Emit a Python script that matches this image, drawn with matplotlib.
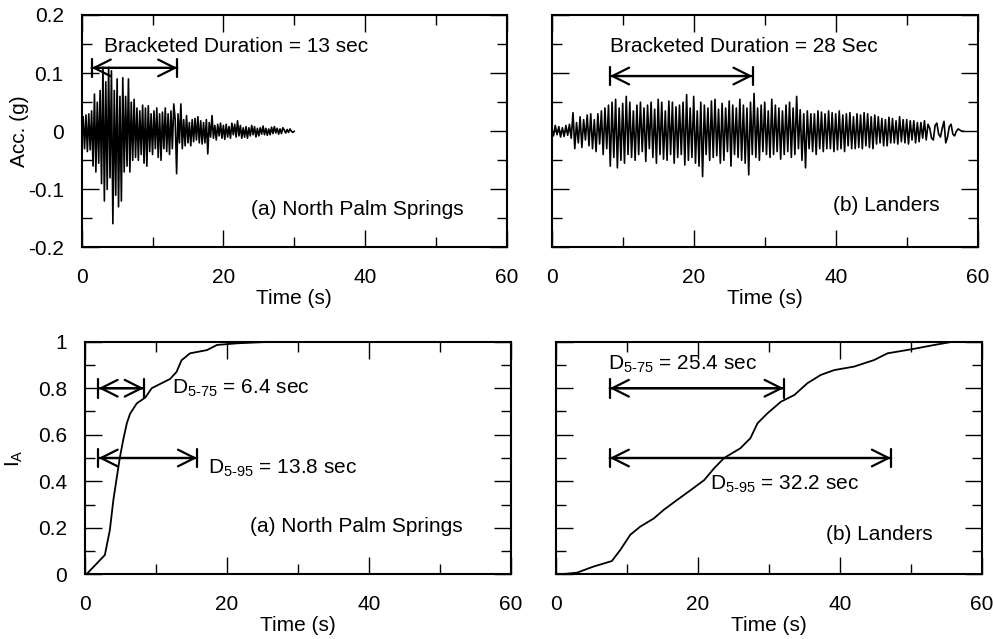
import matplotlib
matplotlib.use('Agg')
import matplotlib.pyplot as plt
import numpy as np
from matplotlib.ticker import MultipleLocator

plt.rcParams['font.family'] = ['Liberation Sans', 'DejaVu Sans']
plt.rcParams['font.size'] = 15
plt.rcParams['mathtext.fontset'] = 'custom'
plt.rcParams['mathtext.rm'] = 'Liberation Sans'
plt.rcParams['mathtext.it'] = 'Liberation Sans:italic'

# --- acceleration records (g) ---
nps_dt = 0.2
nps_acc = [
    0.0, 0.025, -0.03, 0.028, -0.035,
    0.03, -0.032, 0.035, -0.06, 0.064,
    -0.07, 0.05, -0.055, 0.07, -0.09,
    0.11, -0.12, 0.085, -0.1, 0.11,
    -0.08, 0.104, -0.159, 0.07, -0.11,
    0.09, -0.13, 0.06, -0.12, 0.092,
    -0.07, 0.06, -0.06, 0.09, -0.07,
    0.05, -0.05, 0.055, -0.045, 0.04,
    -0.05, 0.035, -0.04, 0.045, -0.055,
    0.04, -0.06, 0.044, -0.035, 0.03,
    -0.04, 0.035, -0.03, 0.04, -0.045,
    0.03, -0.05, 0.033, -0.03, 0.04,
    -0.035, 0.03, -0.04, 0.035, -0.03,
    0.047, 0.02, -0.073, 0.03, -0.02,
    0.047, -0.03, 0.02, -0.025, 0.027,
    -0.02, 0.015, -0.025, 0.02, -0.018,
    0.022, -0.015, 0.025, -0.02, 0.018,
    -0.022, 0.015, -0.02, 0.02, -0.039,
    0.015, -0.01, 0.027, -0.012, 0.01,
    -0.015, 0.012, -0.008, 0.014, -0.012,
    0.01, -0.014, 0.012, -0.01, 0.008,
    -0.012, 0.014, -0.006, 0.012, -0.01,
    0.018, -0.008, 0.01, -0.012, 0.006,
    -0.01, 0.008, -0.012, 0.006, -0.008,
    0.01, -0.006, 0.008, -0.01, 0.005,
    -0.008, 0.006, -0.005, 0.009, -0.006,
    0.005, -0.007, 0.004, -0.006, 0.007,
    -0.004, 0.008, -0.003, 0.005, -0.005,
    0.004, -0.004, 0.006, 0.002, -0.003,
    0.003, -0.002, 0.004, 0.0, -0.002,
    0.0,
]

landers_dt = 0.25
landers_acc = [
    0.004, -0.008, 0.01, -0.006,
    0.008, -0.01, 0.006, -0.009,
    0.01, -0.007, 0.012, -0.012,
    0.032, -0.03, 0.015, -0.02,
    0.025, -0.028, 0.02, -0.015,
    0.028, -0.025, 0.03, -0.03,
    0.02, -0.035, 0.03, -0.022,
    0.035, -0.04, 0.04, -0.03,
    0.045, -0.06, 0.05, -0.045,
    0.055, -0.063, 0.04, -0.05,
    0.048, -0.055, 0.06, -0.04,
    0.05, -0.045, 0.035, -0.05,
    0.045, -0.04, 0.05, -0.035,
    0.04, -0.052, 0.045, -0.03,
    0.05, -0.045, 0.038, -0.055,
    0.055, -0.04, 0.05, -0.048,
    0.035, -0.05, 0.052, -0.04,
    0.05, -0.055, 0.042, -0.045,
    0.045, -0.04, 0.05, -0.058,
    0.063, -0.05, 0.04, -0.045,
    0.06, -0.055, 0.035, -0.06,
    0.05, -0.078, 0.045, -0.04,
    0.04, -0.05, 0.052, -0.045,
    0.055, -0.042, 0.038, -0.055,
    0.048, -0.05, 0.04, -0.035,
    0.052, -0.06, 0.045, -0.04,
    0.04, -0.045, 0.055, -0.05,
    0.045, -0.055, 0.04, -0.075,
    0.05, -0.04, 0.065, -0.045,
    0.04, -0.05, 0.045, -0.035,
    0.05, -0.04, 0.035, -0.045,
    0.055, -0.04, 0.045, -0.035,
    0.04, -0.048, 0.035, -0.04,
    0.045, -0.035, 0.05, -0.045,
    0.04, -0.04, 0.06, -0.03,
    0.037, -0.05, 0.03, -0.063,
    0.035, -0.03, 0.03, -0.035,
    0.03, -0.04, 0.035, -0.03,
    0.033, -0.035, 0.03, -0.03,
    0.035, -0.03, 0.032, -0.035,
    0.03, -0.032, 0.035, -0.03,
    0.028, -0.035, 0.03, -0.025,
    0.032, -0.03, 0.025, -0.03,
    0.03, -0.028, 0.028, -0.03,
    0.032, -0.025, 0.03, -0.028,
    0.025, -0.03, 0.028, -0.022,
    0.025, -0.02, 0.022, -0.025,
    0.02, -0.025, 0.024, -0.02,
    0.022, -0.02, 0.018, -0.022,
    0.025, -0.018, 0.02, -0.02,
    0.02, -0.022, 0.018, -0.015,
    0.018, -0.02, 0.015, -0.018,
    0.015, -0.012, 0.018, -0.015,
    0.012, 0.005, -0.012, -0.015,
    0.01, 0.014, -0.005, -0.01,
    0.005, 0.017, -0.02, -0.01,
    0.008, 0.012, -0.005, -0.008,
    0.0, 0.004, 0.002, 0.0,
    0.0,
]

# --- normalised Arias intensity ---
nps_ia_t = [0.2, 2.8, 3.5, 4.0, 4.5, 4.9, 5.4, 5.9, 6.35, 7.3, 8.5, 9.4, 12.0,
            12.9, 13.6, 14.8, 17.2, 18.6, 21.4, 25.0, 29.0]
nps_ia = [0.0, 0.083, 0.19, 0.32, 0.42, 0.5, 0.58, 0.65, 0.69, 0.735, 0.76,
          0.8, 0.84, 0.87, 0.92, 0.95, 0.964, 0.986, 0.993, 0.998, 1.0]

landers_ia_t = [0.6, 3.0, 5.3, 7.9, 9.1, 10.5, 11.9, 13.8, 15.2, 17.1, 19.0,
                20.9, 22.3, 23.7, 26.0, 27.4, 28.4, 29.8, 31.7, 33.6, 35.4,
                37.3, 39.2, 42.0, 44.8, 46.7, 50.0, 53.3, 55.9]
landers_ia = [0.0, 0.007, 0.033, 0.057, 0.105, 0.17, 0.205, 0.24, 0.277, 0.32,
              0.362, 0.405, 0.456, 0.5, 0.542, 0.585, 0.649, 0.692, 0.742,
              0.771, 0.821, 0.857, 0.878, 0.893, 0.921, 0.95, 0.967, 0.986, 1.0]

# durations marked on the plots (start, end) in s
nps_bracket = (1.4, 13.5)
landers_bracket = (8.2, 28.3)
nps_d575 = (1.9, 8.3)
nps_d595 = (1.9, 15.8)
landers_d575 = (7.6, 32.1)
landers_d595 = (7.6, 47.2)

W, H = 993, 639


def dim_arrow(ax, x1, x2, y):
    ax.annotate('', xy=(x1, y), xytext=(x2, y),
                arrowprops=dict(arrowstyle='<->,head_length=0.8,head_width=0.4',
                                lw=1.6, color='black', shrinkA=0, shrinkB=0))
    ax.annotate('', xy=(x1, y), xytext=(x2, y),
                arrowprops=dict(arrowstyle='|-|,widthA=0.45,widthB=0.45',
                                lw=1.6, color='black', shrinkA=0, shrinkB=0))


def style(ax, ymin, ymax, ymaj, ymin_step, show_y):
    ax.set_xlim(0, 60)
    ax.set_ylim(ymin, ymax)
    ax.xaxis.set_major_locator(MultipleLocator(20))
    ax.xaxis.set_minor_locator(MultipleLocator(10))
    ax.yaxis.set_major_locator(MultipleLocator(ymaj))
    ax.yaxis.set_minor_locator(MultipleLocator(ymin_step))
    ax.tick_params(which='both', direction='in', top=True, right=True, width=1.0)
    ax.tick_params(which='major', length=12, pad=13)
    ax.tick_params(which='minor', length=7)
    ax.tick_params(axis='x', which='major', pad=15)
    for s in ax.spines.values():
        s.set_linewidth(1.5)
    if not show_y:
        ax.tick_params(axis='y', labelleft=False)
    ax.set_xlabel('Time (s)', labelpad=1)


fig = plt.figure(figsize=(W / 100, H / 100), dpi=100)
ax1 = fig.add_axes([81.7 / W, 1 - 247.5 / H, 425 / W, 232.5 / H])
ax2 = fig.add_axes([551.7 / W, 1 - 247.5 / H, 426 / W, 232.5 / H])
ax3 = fig.add_axes([85 / W, 1 - 574.3 / H, 425.7 / W, 232.6 / H])
ax4 = fig.add_axes([555.7 / W, 1 - 574.3 / H, 426.3 / W, 232.6 / H])

nps_t = np.arange(len(nps_acc)) * nps_dt
landers_t = np.arange(len(landers_acc)) * landers_dt

ax1.plot(nps_t, nps_acc, color='black', lw=1.2)
ax2.plot(landers_t, landers_acc, color='black', lw=1.2)
ax3.plot(nps_ia_t, nps_ia, color='black', lw=1.3)
ax4.plot(landers_ia_t, landers_ia, color='black', lw=1.3)

for ax in (ax1, ax2):
    style(ax, -0.2, 0.2, 0.1, 0.05, ax is ax1)
for ax in (ax3, ax4):
    style(ax, 0, 1, 0.2, 0.1, ax is ax3)

ax1.set_yticks([-0.2, -0.1, 0, 0.1, 0.2])
ax1.set_yticklabels(['-0.2', '-0.1', '0', '0.1', '0.2'])
ax3.set_yticks([0, 0.2, 0.4, 0.6, 0.8, 1.0])
ax3.set_yticklabels(['0', '0.2', '0.4', '0.6', '0.8', '1'])

ax1.set_ylabel('Acc. (g)')
ax1.yaxis.set_label_coords(-0.125, 0.5)
ax3.set_ylabel(r'I$_{\mathregular{A}}$')
ax3.yaxis.set_label_coords(-0.14, 0.5)

# top panels
ax1.text(3.2, 0.145, 'Bracketed Duration = 13 sec', va='center')
dim_arrow(ax1, *nps_bracket, 0.109)
ax1.text(23.9, -0.135, '(a) North Palm Springs', va='center')

ax2.text(8.2, 0.145, 'Bracketed Duration = 28 Sec', va='center')
dim_arrow(ax2, *landers_bracket, 0.095)
ax2.text(39.6, -0.128, '(b) Landers', va='center')

# bottom panels
dim_arrow(ax3, *nps_d575, 0.8)
dim_arrow(ax3, *nps_d595, 0.5)
ax3.text(12.2, 0.778, r'D$_{\mathregular{5\text{-}75}}$ = 6.4 sec', va='baseline')
ax3.text(17.4, 0.434, r'D$_{\mathregular{5\text{-}95}}$ = 13.8 sec', va='baseline')
ax3.text(23.3, 0.205, '(a) North Palm Springs', va='center')

dim_arrow(ax4, *landers_d575, 0.8)
dim_arrow(ax4, *landers_d595, 0.5)
ax4.text(7.4, 0.878, r'D$_{\mathregular{5\text{-}75}}$ = 25.4 sec', va='baseline')
ax4.text(21.7, 0.362, r'D$_{\mathregular{5\text{-}95}}$ = 32.2 sec', va='baseline')
ax4.text(38.1, 0.17, '(b) Landers', va='center')

fig.savefig('out.png', dpi=100)
